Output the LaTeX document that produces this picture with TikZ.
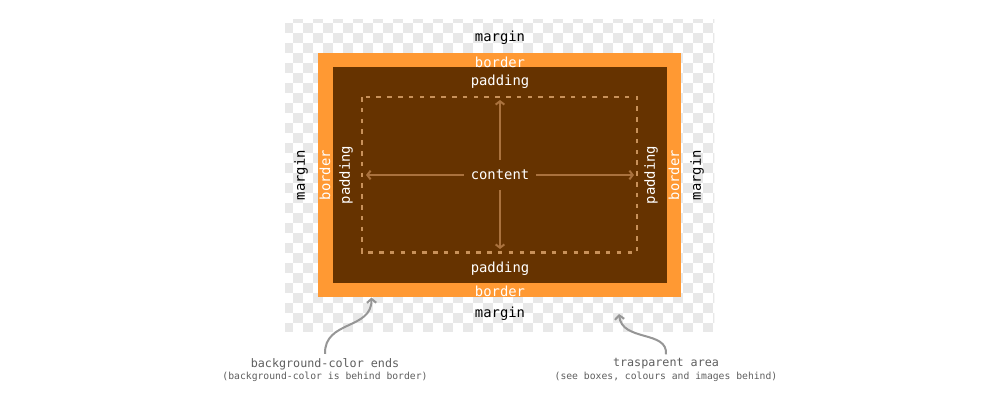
\documentclass[tikz,border=0pt]{standalone}
\usepackage{fontspec}
\setmonofont{DejaVu Sans Mono}
\usetikzlibrary{arrows.meta}
\definecolor{orng}{RGB}{255,153,51}
\definecolor{brwn}{RGB}{102,51,0}
\definecolor{chk}{RGB}{232,232,232}
\definecolor{dotc}{RGB}{200,145,90}
\definecolor{arrc}{RGB}{170,114,62}
\definecolor{annot}{RGB}{95,95,95}
\definecolor{curv}{RGB}{150,150,150}
\begin{document}
\begin{tikzpicture}[x=0.75pt,y=-0.75pt,
  lbl/.style={font=\ttfamily\fontsize{10.4}{12}\selectfont, inner sep=0pt},
  inlbl/.style={lbl, text=white},
  outlbl/.style={lbl, text=black},
  arr/.style={draw=arrc, line width=1.5pt, -{Straight Barb[length=2.5pt,width=6.5pt]}},
  curvarr/.style={draw=curv, line width=1.5pt, -{Straight Barb[length=3pt,width=7pt]}},
  annA/.style={font=\ttfamily\fontsize{8.8}{10}\selectfont, text=annot, inner sep=0pt},
  annB/.style={font=\ttfamily\fontsize{7.3}{9}\selectfont, text=annot, inner sep=0pt}]
\useasboundingbox (0,0) rectangle (1000,403);
\fill[white] (0,0) rectangle (1000,403);
% checkerboard (transparent margin area)
\begin{scope}
\clip (285,20) rectangle (714.3,331.7);
\foreach \c in {0,...,43}{
  \foreach \r in {0,...,31}{
    \pgfmathtruncatemacro\s{mod(\c+\r,2)}
    \ifnum\s=1 \fill[chk] (283.3+10*\c,13.3+10*\r) rectangle ++(10,10); \fi
  }
}
\end{scope}
% border and padding boxes
\fill[orng] (318.3,53.3) rectangle (681,296.7);
\fill[brwn] (332.7,66.7) rectangle (666.7,282.7);
% content box
\draw[dotc, line width=2.2pt, dash pattern=on 3.4pt off 4.7pt] (362,97) rectangle (637,252.7);
% labels
\node[outlbl] (mT) at (500,38) {margin};
\node[inlbl] (bT) at (500,62) {border};
\node[inlbl] (pT) at (500,82) {padding};
\node[inlbl] (pB) at (500,269) {padding};
\node[inlbl] (bB) at (500,291) {border};
\node[outlbl] (mB) at (500,314) {margin};
\node[outlbl, rotate=90] (mL) at (301,175) {margin};
\node[inlbl, rotate=90] (bL) at (325,175) {border};
\node[inlbl, rotate=90] (pL) at (346,175) {padding};
\node[inlbl, rotate=90] (pR) at (651,175) {padding};
\node[inlbl, rotate=90] (bR) at (674,175) {border};
\node[outlbl, rotate=90] (mR) at (697,175) {margin};
\node[inlbl, minimum width=54pt, minimum height=22.5pt] (content) at (500,175) {content};
% content arrows
\coordinate (cU) at (500,100);
\coordinate (cD) at (500,249);
\coordinate (cL) at (366,175);
\coordinate (cR) at (634,175);
\draw[arr] (content.north) -- (cU);
\draw[arr] (content.south) -- (cD);
\draw[arr] (content.west) -- (cL);
\draw[arr] (content.east) -- (cR);
% annotations
\node[annA] (a1) at (325,364) {background-color ends};
\node[annB] (a1b) at (325,377) {(background-color is behind border)};
\node[annA] (a2) at (666,364) {trasparent area};
\node[annB] (a2b) at (666,377) {(see boxes, colours and images behind)};
\coordinate (t1) at (371.5,297.5);
\coordinate (t2) at (619,314);
\draw[curvarr] (a1.north) ++(0,-4) .. controls (324,320) and (372,330) .. (t1);
\draw[curvarr] (a2.north) ++(0,-4) .. controls (668,330) and (622,342) .. (t2);
\end{tikzpicture}
\end{document}
